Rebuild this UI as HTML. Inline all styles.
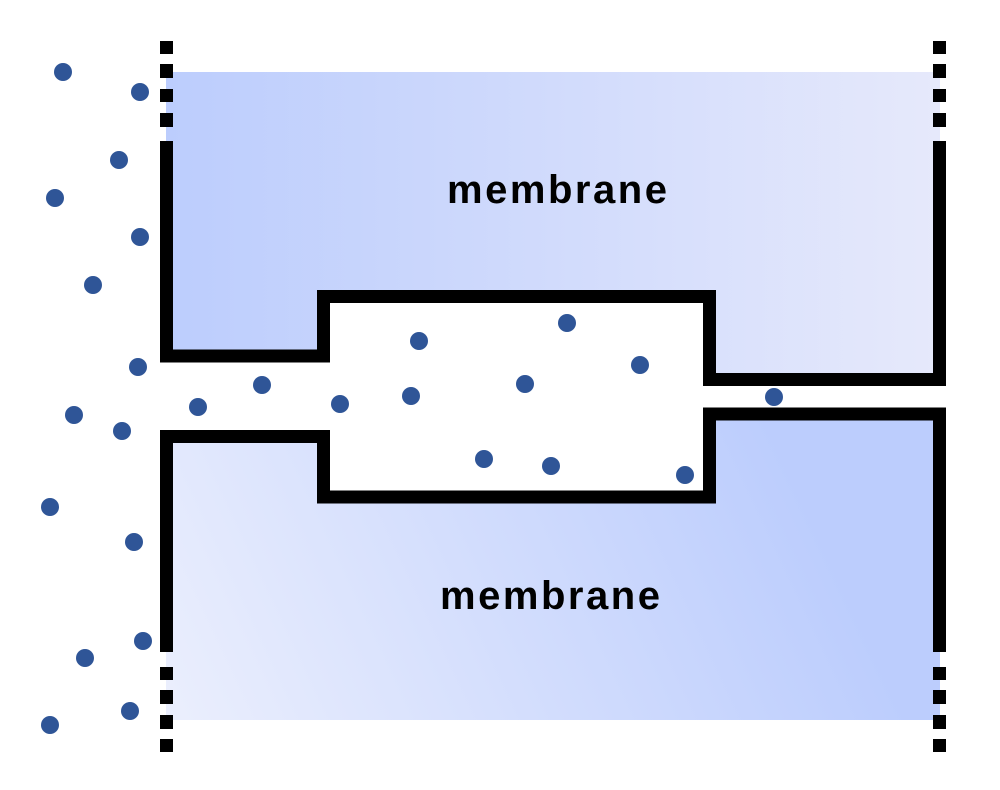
<!DOCTYPE html>
<html><head><meta charset="utf-8"><style>
html,body{margin:0;padding:0;background:#fff;width:1000px;height:790px;overflow:hidden}
</style></head><body>
<svg width="1000" height="790" viewBox="0 0 1000 790" xmlns="http://www.w3.org/2000/svg">
<defs>
<linearGradient id="gt" x1="0" y1="0" x2="1" y2="0">
<stop offset="0" stop-color="#bccdfd"/><stop offset="1" stop-color="#e6e9fb"/>
</linearGradient>
<linearGradient id="gb" x1="200" y1="760" x2="900" y2="430" gradientUnits="userSpaceOnUse">
<stop offset="0" stop-color="#eaeefd"/><stop offset="0.85" stop-color="#bccdfd"/><stop offset="1" stop-color="#bccdfd"/>
</linearGradient>
</defs>
<path d="M166,72 H940 V379.5 H709.5 V296.5 H323.5 V356 H166 Z" fill="url(#gt)"/>
<path d="M166,436.5 H323.5 V497 H709.5 V414 H940 V720 H166 Z" fill="url(#gb)"/>
<g fill="none" stroke="#000" stroke-width="13" stroke-linejoin="miter">
<path d="M166.5,141 V356 H323.5 V296.5 H709.5 V379.5 H939.5 V141"/>
<path d="M166.5,652 V436.5 H323.5 V497 H709.5 V414 H939.5 V652"/>
</g>
<g fill="#000">
<rect x="160" y="41" width="13" height="13"/><rect x="160" y="64" width="13" height="14"/><rect x="160" y="89" width="13" height="13"/><rect x="160" y="113" width="13" height="14"/>
<rect x="933" y="41" width="13" height="13"/><rect x="933" y="64" width="13" height="14"/><rect x="933" y="89" width="13" height="13"/><rect x="933" y="113" width="13" height="14"/>
<rect x="160" y="667" width="13" height="13"/><rect x="160" y="690" width="13" height="14"/><rect x="160" y="715" width="13" height="14"/><rect x="160" y="739" width="13" height="13"/>
<rect x="933" y="667" width="13" height="13"/><rect x="933" y="690" width="13" height="14"/><rect x="933" y="715" width="13" height="14"/><rect x="933" y="739" width="13" height="13"/>
</g>
<g fill="#2f5597">
<circle cx="63" cy="72" r="9"/><circle cx="140" cy="92" r="9"/><circle cx="119" cy="160" r="9"/><circle cx="55" cy="198" r="9"/>
<circle cx="140" cy="237" r="9"/><circle cx="93" cy="285" r="9"/><circle cx="138" cy="367" r="9"/><circle cx="74" cy="415" r="9"/>
<circle cx="122" cy="431" r="9"/><circle cx="50" cy="507" r="9"/><circle cx="134" cy="542" r="9"/><circle cx="143" cy="641" r="9"/>
<circle cx="85" cy="658" r="9"/><circle cx="130" cy="711" r="9"/><circle cx="50" cy="725" r="9"/>
<circle cx="198" cy="407" r="9"/><circle cx="262" cy="385" r="9"/><circle cx="340" cy="404" r="9"/><circle cx="419" cy="341" r="9"/>
<circle cx="411" cy="396" r="9"/><circle cx="567" cy="323" r="9"/><circle cx="525" cy="384" r="9"/><circle cx="640" cy="365" r="9"/>
<circle cx="484" cy="459" r="9"/><circle cx="551" cy="466" r="9"/><circle cx="685" cy="475" r="9"/><circle cx="774" cy="397" r="9"/>
</g>
<g font-family="Liberation Sans, sans-serif" font-weight="bold" font-size="40" fill="#000">
<text x="447" y="203" textLength="220" lengthAdjust="spacing">membrane</text>
<text x="440" y="609" textLength="220" lengthAdjust="spacing">membrane</text>
</g>
</svg>
</body></html>
